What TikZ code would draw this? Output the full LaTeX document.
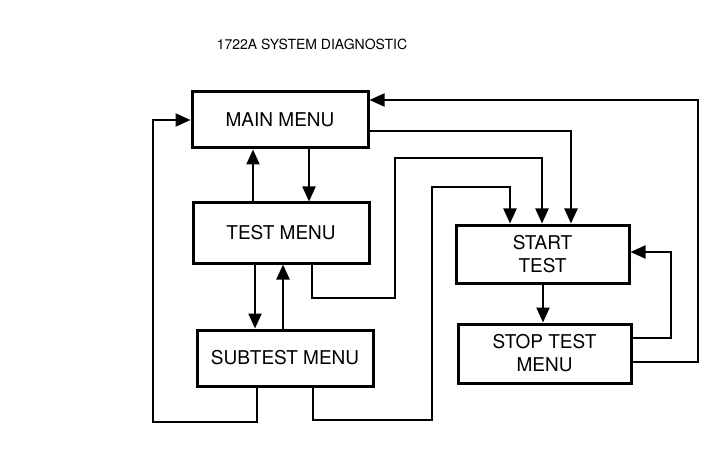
\documentclass[tikz,border=0pt]{standalone}
\usepackage{fontspec}
\setmainfont{TeX Gyre Heros}
\usetikzlibrary{arrows.meta}
\begin{document}
\begin{tikzpicture}[x=1pt,y=-1pt,
  menubox/.style={draw, line width=3pt, rectangle, inner sep=0pt, align=center,
    font=\fontsize{19}{23}\selectfont},
  conn/.style={line width=2.2pt},
  arr/.style={conn, -{Triangle[length=15pt,width=13pt]}}]
\useasboundingbox[fill=white] (0,0) rectangle (703,470);
\node (title) at (312,44) {\fontsize{14}{16}\selectfont 1722A SYSTEM DIAGNOSTIC};
\node[menubox, minimum width=176pt, minimum height=56pt] (main) at (280,120) {MAIN MENU};
\node[menubox, minimum width=176pt, minimum height=60pt] (test) at (281,233) {TEST MENU};
\node[menubox, minimum width=176pt, minimum height=56pt] (sub) at (285,358) {SUBTEST MENU};
\node[menubox, minimum width=173pt, minimum height=58pt] (start) at (542.5,254) {START\\TEST};
\node[menubox, minimum width=173pt, minimum height=59pt] (stop) at (544.5,353.5) {STOP TEST\\MENU};
% main <-> test
\draw[arr] (main.south -| 309,0) -- (test.north -| 309,0);
\draw[arr] (test.north -| 253,0) -- (main.south -| 253,0);
% test <-> subtest
\draw[arr] (test.south -| 255,0) -- (sub.north -| 255,0);
\draw[arr] (sub.north -| 283,0) -- (test.south -| 283,0);
% subtest -> main (left loop)
\draw[arr] (sub.south -| 257,0) -- (257,422) -- (153,422) |- (main.west);
% subtest -> start
\draw[arr] (sub.south -| 313,0) -- (313,420) -- (432,420) -- (432,187) -- (510,187) -- (start.north -| 510,0);
% test -> start
\draw[arr] (test.south -| 312,0) -- (312,298) -- (395,298) -- (395,158) -- (542,158) -- (start.north -| 542,0);
% main -> start
\draw[arr] (main.east |- 0,131) -- (571,131) -- (start.north -| 571,0);
% stop -> main (right loop)
\draw[arr] (stop.east |- 0,362) -- (698,362) -- (698,100) -- (main.east |- 0,100);
% stop -> start
\draw[arr] (stop.east |- 0,338) -- (671,338) -- (671,252) -- (start.east |- 0,252);
% start -> stop
\draw[arr] (start.south -| 543,0) -- (stop.north -| 543,0);
\end{tikzpicture}
\end{document}
